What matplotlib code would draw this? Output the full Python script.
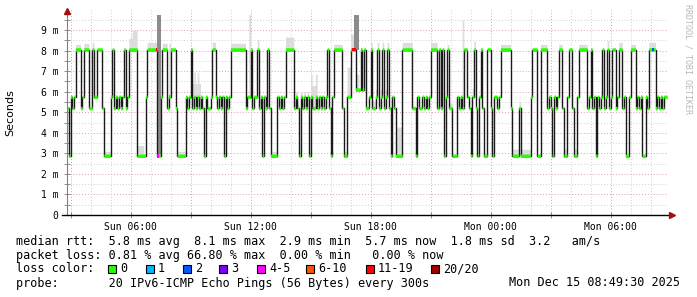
import numpy as np
import matplotlib
matplotlib.use("Agg")
import matplotlib.pyplot as plt
from matplotlib.lines import Line2D
from matplotlib.patches import Rectangle

# ---------------- data ----------------
# median rtt levels (ms) by code
level_ms = {"H": 8.05, "S": 6.1, "M": 5.75, "L": 5.2, "B": 2.88}

# change points of the median rtt (minutes since Sun 00:00) and new level code
chg_min = [170, 175, 180, 185, 190, 195, 210, 215, 220, 235, 245, 250, 260, 275, 280,
           300, 305, 310, 315, 320, 325, 330, 335, 340, 345, 350, 355, 380, 405, 410,
           440, 450, 455, 470, 475, 480, 495, 500, 525, 530, 535, 540, 545, 550, 555,
           560, 565, 570, 575, 580, 585, 590, 600, 605, 615, 620, 625, 630, 635, 640,
           645, 650, 655, 660, 705, 710, 720, 725, 730, 740, 745, 750, 755, 760, 765,
           770, 775, 780, 800, 805, 810, 815, 820, 825, 850, 855, 860, 865, 870,
           875, 880, 885, 890, 895, 900, 905, 915, 920, 925, 930, 935, 940, 945, 950,
           955, 960, 965, 970, 995, 1000, 1010, 1020, 1035, 1050, 1055, 1060, 1065, 1075,
           1080, 1085, 1095, 1100, 1105, 1110, 1115, 1120, 1125, 1130, 1135, 1140, 1145,
           1150, 1155, 1175, 1205, 1215, 1220, 1225, 1235, 1240, 1245, 1250, 1255, 1260,
           1280, 1285, 1290, 1295, 1300, 1305, 1310, 1315, 1325, 1340, 1345, 1350, 1355,
           1360, 1370, 1375, 1380, 1385, 1390, 1395, 1400, 1405, 1410, 1415, 1420, 1430,
           1440, 1445, 1450, 1460, 1465, 1470, 1500, 1505, 1525, 1530, 1560, 1565, 1580,
           1590, 1610, 1615, 1620, 1625, 1630, 1635, 1640, 1645, 1655, 1660, 1670, 1675,
           1685, 1690, 1700, 1705, 1730, 1735, 1740, 1745, 1750, 1755, 1760, 1765, 1770,
           1775, 1780, 1785, 1790, 1795, 1800, 1805, 1815, 1820, 1825, 1835, 1840, 1845,
           1855, 1860, 1875, 1880, 1885, 1890, 1895, 1905, 1910, 1915, 1935, 1940, 1945,
           1950, 1955, 1960]
chg_code = ("LBMLMHLMHLHMHLB"
            "MHLMLMLMHLMHBMH"
            "BMHLMHLBMLMHLML"
            "MLMLBMLMHMLMLMB"
            "MLMHLMHLMHLMBML"
            "HLBMLMLMHLMLBM"
            "LMLMBMLMLMLMLMH"
            "LBMHLBMHSHSHLM"
            "HLMHLMHLMHLBM"
            "LBHLBMLMLMLMH"
            "LHLHBMHLBMLML"
            "HMLBMHLBMHLBH"
            "LBMLMHLBLBMHB"
            "HLMLBMLMHLBMH"
            "LBMHLMHLMBMLM"
            "HLMHLMHLMHLMB"
            "MHLMLMBMLHLML"
            "MLM")

# smoke (spread of the 20 pings): start min, end min, height above the median (ms)
smoke_start = [195, 210, 220, 245, 280, 355, 365, 380, 410, 455, 475, 500, 545, 605, 660,
               715, 740, 780, 825, 850, 900, 970, 1000, 1010, 1020, 1080, 1155, 1175, 1260,
               1310, 1355, 1385, 1470, 1505, 1590, 1645, 1660, 1690, 1705, 1790, 1825, 1860,
               1915]
smoke_end = [210, 215, 235, 250, 300, 365, 380, 400, 440, 470, 480, 525, 570, 615, 705,
             720, 745, 800, 850, 900, 920, 995, 1010, 1020, 1045, 1135, 1175, 1205, 1280,
             1325, 1360, 1395, 1500, 1560, 1610, 1655, 1670, 1700, 1730, 1805, 1835, 1875,
             1935]
smoke_extra = [0.25, 0.3, 0.3, 0.35, 0.22, 0.55, 0.95, 0.5, 0.35, 0.3, 2.6, 0.22, 1.2, 0.35,
               0.3, 4.0, 0.5, 0.22, 0.6, 0.25, 1.1, 0.25, 0.22, 1.45, 0.75, 0.35, 1.4, 0.35,
               0.35, 0.25, 4.3, 0.4, 0.25, 0.32, 0.25, 0.25, 0.32, 0.32, 0.25, 0.45, 0.35,
               0.25, 0.35]

# dense (dark) smoke during loss spikes: start, end, low, high
dark_start = [440, 1030]
dark_end = [450, 1045]
dark_low = [2.88, 8.05]
dark_high = [9.75, 9.75]

# loss colour of individual steps (other steps are 0 loss = green)
loss_min = [435, 440, 475, 1025, 1030, 1925]
loss_cls = [6, 4, 1, 6, 6, 2]

loss_labels = ["0", "1", "2", "3", "4-5", "6-10", "11-19", "20/20"]
loss_colors = ["#26ff00", "#00b8ff", "#0059ff", "#7e00ff", "#ff00ff", "#ff5500",
               "#ff0000", "#a10000"]

tick_min = [360, 720, 1080, 1440, 1800]
tick_labels = ["Sun 06:00", "Sun 12:00", "Sun 18:00", "Mon 00:00", "Mon 06:00"]
ytick_vals = [0, 1, 2, 3, 4, 5, 6, 7, 8, 9]
ytick_labels = ["0", "1 m", "2 m", "3 m", "4 m", "5 m", "6 m", "7 m", "8 m", "9 m"]

# ---------------- build step series ----------------
step = 5
t = np.arange(170, 1966, step)
idx = np.searchsorted(chg_min, t, side="right") - 1
med = np.array([level_ms[chg_code[i]] for i in idx])
top = med.copy()
for s0, s1, ex in zip(smoke_start, smoke_end, smoke_extra):
    m = (t >= s0) & (t < s1)
    top[m] = np.maximum(top[m], med[m] + ex)

t_ext = np.append(t, t[-1] + step)
med_ext = np.append(med, med[-1])
top_ext = np.append(top, top[-1])

# ---------------- figure ----------------
W, H = 697, 297
fig = plt.figure(figsize=(W / 100, H / 100), dpi=100)
fig.patch.set_facecolor("white")
px_per_ms = 185 / 9.0
ax = fig.add_axes([67 / W, (H - 215) / H, 600 / W, 205 / H])
ax.set_xlim(169.5, 1969.5)
ax.set_ylim(0, 205 / px_per_ms)
ax.set_facecolor("white")

# grid
for hh in range(180, 1970, 60):
    major = (hh % 180 == 0)
    ax.axvline(hh, color="#e0a0a0" if major else "#cfcfcf", lw=0.7,
               ls=(0, (1, 2)), zorder=0)
for yy in np.arange(0.5, 9.6, 0.5):
    major = float(yy).is_integer()
    ax.axhline(yy, color="#e0a0a0" if major else "#cfcfcf", lw=0.7,
               ls=(0, (1, 2)), zorder=0)

# smoke
ax.fill_between(t_ext, med_ext, top_ext, step="post", color="#dcdcdc", lw=0, zorder=1)
for s0, s1, lo, hi in zip(dark_start, dark_end, dark_low, dark_high):
    ax.add_patch(Rectangle((s0, lo), s1 - s0, hi - lo, facecolor="#8c8c8c",
                           edgecolor="none", zorder=1.5))

# median line
ax.step(t_ext, med_ext, where="post", color="#1a1a1a", lw=1.0, zorder=2)
# loss colour band
band = 0.085
ax.fill_between(t_ext, med_ext - band, med_ext + band, step="post",
                color=loss_colors[0], lw=0, zorder=3)
for lm, lc in zip(loss_min, loss_cls):
    lvl = med[np.searchsorted(t, lm)]
    ax.add_patch(Rectangle((lm, lvl - band), step, 2 * band,
                           facecolor=loss_colors[lc], edgecolor="none", zorder=3.5))

# axes styling
for sp in ["top", "right", "bottom"]:
    ax.spines[sp].set_visible(False)
ax.spines["left"].set_color("#808080")
ax.spines["left"].set_linewidth(0.8)

ax.set_yticks(ytick_vals)
ax.set_yticklabels(ytick_labels, family="DejaVu Sans Mono", fontsize=7)
ax.set_yticks(np.arange(0.5, 9.6, 1.0), minor=True)
ax.tick_params(axis="y", which="both", direction="inout", length=4, width=0.6,
               color="#808080", pad=4)
ax.set_xticks(tick_min)
ax.set_xticklabels(tick_labels, family="DejaVu Sans Mono", fontsize=7)
ax.set_xticks(list(range(180, 1970, 180)), minor=True)
ax.tick_params(axis="x", which="major", direction="inout", length=4, width=0.6,
               color="#c06060", pad=3)
ax.tick_params(axis="x", which="minor", direction="inout", length=4, width=0.6,
               color="#c06060")

# bottom axis line with arrow, top arrow
fig.add_artist(Line2D([62 / W, 670 / W], [(H - 215) / H] * 2, color="black", lw=1.0))
fig.add_artist(Line2D([672 / W], [(H - 215) / H], marker=">", color="#a01010",
                      markersize=4, lw=0))
fig.add_artist(Line2D([67 / W], [(H - 11) / H], marker="^", color="#a01010",
                      markersize=4, lw=0))

# labels
fig.text(10 / W, 1 - 113 / H, "Seconds", rotation=90, va="center", ha="center",
         fontsize=8, family="DejaVu Sans")
fig.text(688 / W, 1 - 4 / H, "RRDTOOL / TOBI OETIKER", rotation=270, va="top",
         ha="center", fontsize=6, family="DejaVu Sans Mono", color="#b8b8b8")

mono = dict(family="DejaVu Sans Mono", fontsize=8.5, va="center", ha="left")
fig.text(16 / W, 1 - 241 / H,
         "median rtt:  5.8 ms avg  8.1 ms max  2.9 ms min  5.7 ms now  1.8 ms sd  3.2   am/s",
         **mono)
fig.text(16 / W, 1 - 255 / H,
         "packet loss: 0.81 % avg 66.80 % max  0.00 % min   0.00 % now", **mono)
fig.text(16 / W, 1 - 269 / H, "loss color:", **mono)
box_x = [108, 146, 183, 219, 257, 306, 366, 431]
for bx, lab, col in zip(box_x, loss_labels, loss_colors):
    fig.add_artist(Rectangle((bx / W, 1 - 273 / H), 8 / W, 8 / H, facecolor=col,
                             edgecolor="black", lw=0.8, transform=fig.transFigure))
    fig.text((bx + 12) / W, 1 - 269 / H, lab, **mono)
fig.text(16 / W, 1 - 283 / H,
         "probe:       20 IPv6-ICMP Echo Pings (56 Bytes) every 300s", **mono)
fig.text(680 / W, 1 - 283 / H, "Mon Dec 15 08:49:30 2025",
         family="DejaVu Sans Mono", fontsize=8.5, va="center", ha="right")

fig.savefig("out.png", dpi=100, facecolor="white")
